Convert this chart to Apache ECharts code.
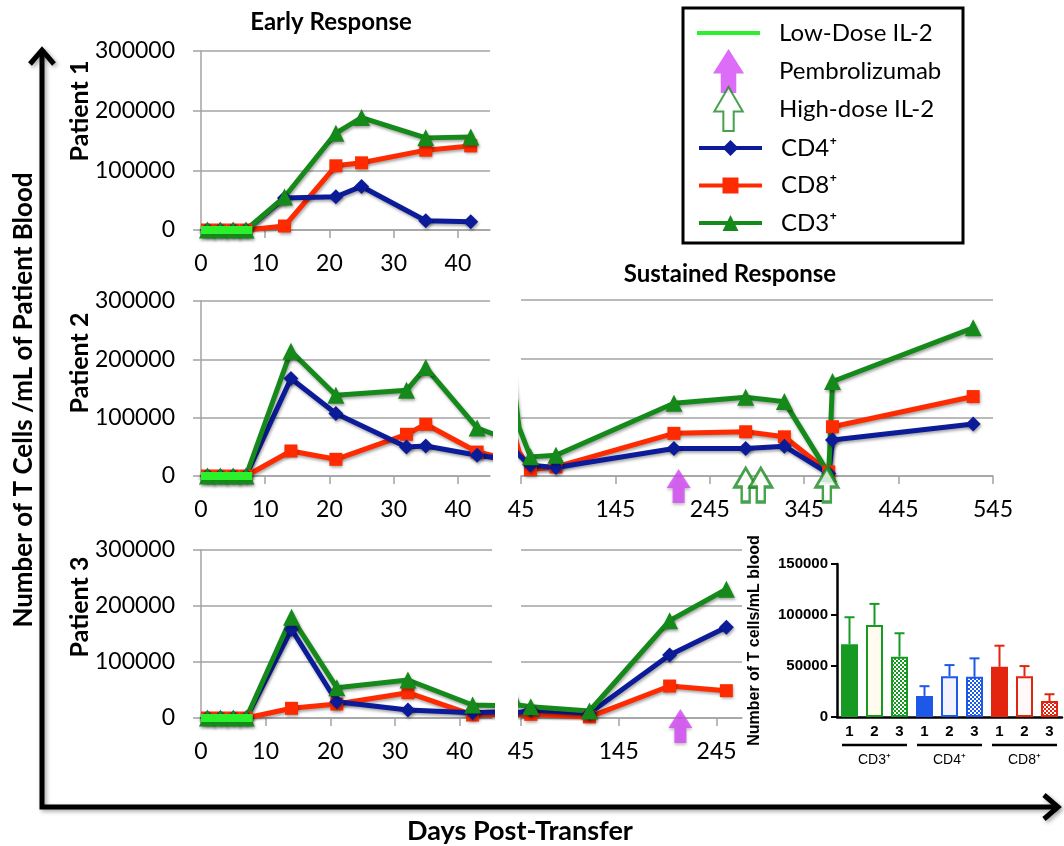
<!DOCTYPE html>
<html lang="en">
<head>
<meta charset="UTF-8">
<script src="https://cdn.jsdelivr.net/npm/echarts@6/dist/echarts.min.js"></script>
<title>T cells post-transfer</title>
<style>html,body{margin:0;padding:0;background:#fff;}</style>
</head>
<body>
<div id="main" style="width:1064px;height:846px;"></div>
<script type="text/javascript">
// days post-transfer; early and sustained panels share one array, the axes clip it
var p1Days = [1, 3, 5, 7, 13, 21, 25, 35, 42];
var p1CD4 = [0, 0, 0, 0, 53500, 55700, 73000, 15600, 13900];
var p1CD8 = [0, 0, 0, 0, 6700, 107600, 112600, 133800, 141000];
var p1CD3 = [0, 0, 0, 0, 55300, 162300, 188500, 154400, 156000];

var p2Days = [1, 3, 5, 7, 14, 21, 32, 35, 43, 55, 82, 207, 283, 324, 371, 375, 524];
var p2CD4 = [0, 0, 0, 0, 167000, 107000, 49700, 51400, 35500, 18300, 14400, 47000, 47000, 50900, 4100, 61200, 88600];
var p2CD8 = [0, 0, 0, 0, 42900, 28600, 71500, 88600, 41100, 11000, 15400, 72700, 75400, 66800, 6900, 84000, 135400];
var p2CD3 = [0, 0, 0, 0, 214000, 138300, 146900, 185800, 82300, 32600, 35500, 124100, 134400, 126800, 4000, 161100, 252600];

var p3Days = [1, 3, 5, 7, 14, 21, 32, 42, 55, 115, 197, 255];
var p3CD4 = [0, 0, 0, 0, 158400, 29100, 14300, 9500, 14300, 8300, 112500, 162000];
var p3CD8 = [0, 0, 0, 0, 17300, 25000, 45200, 5400, 6600, 2000, 57100, 48800];
var p3CD3 = [0, 0, 0, 0, 179800, 54100, 67900, 23200, 20200, 12500, 173800, 229900];

// treatments
var lowDoseDays = [0, 8];
var p2PembroDays = [212];
var p2HighDoseDays = [283, 299, 369];
var p3PembroDays = [208];

// tick labels
var earlyTicks = [0, 10, 20, 30, 40];
var p2LateTicks = [45, 145, 245, 345, 445, 545];
var p3LateTicks = [45, 145, 245];

// inset bar chart
var barGroups = ['CD3', 'CD4', 'CD8'];
var barSlots = ['1', '2', '3'];
var barMean = [71300, 90300, 59100, 20700, 40000, 39400, 49200, 40000, 15700];
var barErrTop = [97800, 110900, 82100, 30200, 50900, 57500, 69900, 49900, 22300];

var FONT = 'Lato';
var GRAY = '#a3a3a3';
var cCD4 = '#0c1b98', cCD8 = '#ff2b00', cCD3 = '#16891b', cLow = '#2cf02c';
var cPembro = '#d448f7', cHigh = '#1a8a1f';
var barColors = ['#169a22', '#1d58e8', '#e3240f'];
var barLight = ['#fffcef', '#f3f3ff', '#fff9f9'];

var myChart = echarts.init(document.getElementById('main'));

var shadow = {shadowColor: 'rgba(0,0,0,0.35)', shadowBlur: 3, shadowOffsetX: 1, shadowOffsetY: 2};

function pairs(days, vals) {
    return days.map(function (d, i) { return [d, vals[i]]; });
}

function plain(v) { return String(v); } // no thousands separator

function cellLine(name, g, days, vals, color, symbol, size) {
    return {
        name: name, type: 'line', xAxisIndex: g, yAxisIndex: g,
        data: pairs(days, vals), symbol: symbol, symbolSize: size,
        lineStyle: Object.assign({width: 5, color: color}, shadow),
        itemStyle: Object.assign({color: color}, shadow),
        clip: true
    };
}

function checker(c) {
    var cv = document.createElement('canvas');
    cv.width = 4; cv.height = 4;
    var ctx = cv.getContext('2d');
    ctx.fillStyle = '#ffffff'; ctx.fillRect(0, 0, 4, 4);
    ctx.fillStyle = c; ctx.fillRect(0, 0, 2, 2); ctx.fillRect(2, 2, 2, 2);
    return cv;
}

var pembroPath = 'path://M12,0 L24,19 L18,19 L18,34 L6,34 L6,19 L0,19 Z';
var highPath = 'path://M11,0 L22,19 L15,19 L15,34 L7,34 L7,19 L0,19 Z';

function arrows(name, g, days, path, style, size, dy) {
    return {
        name: name, type: 'scatter', xAxisIndex: g, yAxisIndex: g,
        data: days.map(function (d) { return [d, 0]; }),
        symbol: path, symbolSize: size, symbolOffset: [0, dy],
        itemStyle: style, clip: false, z: 5
    };
}

// axes
var grids = [
    {left: 201, top: 51, width: 289, height: 179},
    {left: 201, top: 301, width: 289, height: 175},
    {left: 521, top: 300, width: 472, height: 176},
    {left: 201, top: 550, width: 291, height: 168},
    {left: 521, top: 550, width: 221, height: 168},
    {left: 837, top: 564, width: 225, height: 153}
];

function dayAxis(g, min, max, ticks) {
    return {
        type: 'value', gridIndex: g, min: min, max: max,
        axisLine: {show: true, lineStyle: {color: GRAY, width: 1.5}},
        axisTick: {show: true, length: 8, customValues: ticks, lineStyle: {color: GRAY, width: 1.5}},
        axisLabel: {customValues: ticks, fontFamily: FONT, fontSize: 23, color: '#000', margin: 22},
        splitLine: {show: false}
    };
}

function countAxis(g, labelled) {
    return {
        type: 'value', gridIndex: g, min: 0, max: 300000, interval: 100000,
        axisLine: {show: labelled, lineStyle: {color: GRAY, width: 1.5}},
        axisTick: {show: labelled, length: 8, lineStyle: {color: GRAY, width: 1.5}},
        axisLabel: {show: labelled, formatter: plain, fontFamily: FONT, fontSize: 23, color: '#000', margin: 26},
        splitLine: {show: true, lineStyle: {color: GRAY, width: 1.5}}
    };
}

var barCats = [];
barGroups.forEach(function (g) { barSlots.forEach(function (s) { barCats.push(g + '-' + s); }); });

var xAxes = [
    dayAxis(0, 0, 45, earlyTicks),
    dayAxis(1, 0, 45, earlyTicks),
    dayAxis(2, 45, 545, p2LateTicks),
    dayAxis(3, 0, 45, earlyTicks),
    dayAxis(4, 45, 271, p3LateTicks),
    {
        type: 'category', gridIndex: 5, data: barCats,
        axisLine: {lineStyle: {color: '#000', width: 2.5}},
        axisTick: {show: false},
        axisLabel: {
            interval: 0, margin: 7, color: '#000', fontFamily: 'Liberation Sans', fontWeight: 'bold', fontSize: 15,
            formatter: function (v) { return v.split('-')[1]; }
        }
    }
];
var yAxes = [
    countAxis(0, true), countAxis(1, true), countAxis(2, false), countAxis(3, true), countAxis(4, false),
    {
        type: 'value', gridIndex: 5, min: 0, max: 150000, interval: 50000,
        name: 'Number of T cells/mL blood', nameLocation: 'middle', nameRotate: 90, nameGap: 74,
        nameTextStyle: {fontFamily: 'Liberation Sans', fontWeight: 'bold', fontSize: 16, color: '#000'},
        axisLine: {show: true, lineStyle: {color: '#000', width: 2.5}},
        axisTick: {show: true, length: 6, lineStyle: {color: '#000', width: 2}},
        axisLabel: {formatter: plain, fontFamily: 'Liberation Sans', fontWeight: 'bold', fontSize: 15, color: '#000', margin: 9},
        splitLine: {show: false}
    }
];

// line series for each panel
var series = [];
var panels = [
    [0, p1Days, p1CD4, p1CD8, p1CD3],
    [1, p2Days, p2CD4, p2CD8, p2CD3],
    [2, p2Days, p2CD4, p2CD8, p2CD3],
    [3, p3Days, p3CD4, p3CD8, p3CD3],
    [4, p3Days, p3CD4, p3CD8, p3CD3]
];
panels.forEach(function (p) {
    series.push(cellLine('CD8⁺', p[0], p[1], p[3], cCD8, 'rect', 13));
    series.push(cellLine('CD4⁺', p[0], p[1], p[2], cCD4, 'diamond', 15));
    series.push(cellLine('CD3⁺', p[0], p[1], p[4], cCD3, 'triangle', 17));
});
[0, 1, 3].forEach(function (g) {
    series.push({
        name: 'Low-Dose IL-2', type: 'line', xAxisIndex: g, yAxisIndex: g,
        data: lowDoseDays.map(function (d) { return [d, 0]; }),
        symbol: 'none', z: 4,
        lineStyle: {width: 8, color: cLow, shadowColor: 'rgba(0,0,0,0.5)', shadowBlur: 4, shadowOffsetY: 3},
        itemStyle: {color: cLow}
    });
});
var pembroStyle = {color: cPembro, shadowColor: 'rgba(0,0,0,0.3)', shadowBlur: 3, shadowOffsetY: 2};
var highStyle = {color: '#ffffff', borderColor: cHigh, borderWidth: 3};
series.push(arrows('Pembrolizumab', 2, p2PembroDays, pembroPath, pembroStyle, [24, 34], 10));
series.push(arrows('Pembrolizumab', 4, p3PembroDays, pembroPath, pembroStyle, [24, 34], 8));
series.push(arrows('High-dose IL-2', 2, p2HighDoseDays, highPath, highStyle, [22, 34], 9));

// inset bars
series.push({
    name: 'mean', type: 'bar', xAxisIndex: 5, yAxisIndex: 5, barWidth: 17,
    data: barMean.map(function (v, i) {
        var g = Math.floor(i / 3), s = i % 3, c = barColors[g];
        var fill = s === 0 ? c : (s === 1 ? barLight[g] : {image: checker(c), repeat: 'repeat'});
        return {value: v, itemStyle: {color: fill, borderColor: c, borderWidth: 2}};
    })
});
series.push({
    name: 'sem', type: 'custom', xAxisIndex: 5, yAxisIndex: 5,
    encode: {x: 0, y: [1, 2]},
    data: barMean.map(function (m, i) { return [i, m, barErrTop[i]]; }),
    renderItem: function (params, api) {
        var lo = api.coord([api.value(0), api.value(1)]);
        var hi = api.coord([api.value(0), api.value(2)]);
        var c = barColors[Math.floor(params.dataIndex / 3)];
        return {type: 'group', children: [
            {type: 'line', shape: {x1: lo[0], y1: lo[1], x2: hi[0], y2: hi[1]}, style: {stroke: c, lineWidth: 2}},
            {type: 'line', shape: {x1: hi[0] - 5, y1: hi[1], x2: hi[0] + 5, y2: hi[1]}, style: {stroke: c, lineWidth: 2}}
        ]};
    }
});
series.push({
    name: 'groups', type: 'custom', xAxisIndex: 5, yAxisIndex: 5,
    encode: {x: 0, y: 1},
    data: barGroups.map(function (g, i) { return [i * 3, 0]; }),
    renderItem: function (params, api) {
        var first = api.coord([api.value(0), 0]);
        var last = api.coord([api.value(0) + 2, 0]);
        var half = api.size([1, 0])[0] * 0.3;
        var y = first[1] + 28;
        return {type: 'group', children: [
            {type: 'line', shape: {x1: first[0] - half, y1: y, x2: last[0] + half, y2: y}, style: {stroke: '#000', lineWidth: 2.5}},
            {type: 'text', x: (first[0] + last[0]) / 2, y: y + 15, style: {
                text: barGroups[params.dataIndex] + '⁺', fill: '#000',
                font: '14px "Liberation Sans Narrow", "Liberation Sans", sans-serif',
                align: 'center', verticalAlign: 'middle', textAlign: 'center', textVerticalAlign: 'middle'
            }}
        ]};
    }
});

var legendText = {fontFamily: FONT, fontSize: 24, color: '#000', lineHeight: 28, padding: [0, 0, 0, 14]};

function label(txt, x, y, size, rot) {
    return {
        type: 'text', x: x, y: y, rotation: rot || 0,
        style: {
            text: txt, fill: '#000', font: 'bold ' + size + 'px ' + FONT,
            align: 'center', verticalAlign: 'middle', textAlign: 'center', textVerticalAlign: 'middle'
        }
    };
}

var arrowStyle = {stroke: '#000', lineWidth: 5, fill: null, shadowColor: 'rgba(0,0,0,0.35)', shadowBlur: 4, shadowOffsetX: 2, shadowOffsetY: 2};

var option = {
    animation: false,
    backgroundColor: '#fff',
    grid: grids,
    xAxis: xAxes,
    yAxis: yAxes,
    legend: [
        {data: ['Low-Dose IL-2'], orient: 'vertical', left: 697, top: 19, padding: 0,
            icon: 'rect', itemWidth: 63, itemHeight: 4, textStyle: legendText, selectedMode: false},
        {data: ['Pembrolizumab', 'High-dose IL-2'], orient: 'vertical', left: 713, top: 49, padding: 0,
            itemWidth: 63, itemHeight: 44, itemGap: -7, symbolKeepAspect: true, textStyle: legendText, selectedMode: false},
        {data: ['CD4⁺', 'CD8⁺', 'CD3⁺'], orient: 'vertical', left: 697, top: 134, padding: 0,
            itemWidth: 63, itemHeight: 20, itemGap: 9.5, lineStyle: {width: 4}, textStyle: legendText, selectedMode: false}
    ],
    graphic: [
        {type: 'rect', shape: {x: 683, y: 8, width: 280, height: 235}, style: {stroke: '#000', lineWidth: 3, fill: null}},
        {type: 'polyline', shape: {points: [[42, 52], [42, 807], [1056, 807]]}, style: arrowStyle},
        {type: 'polyline', shape: {points: [[30, 64], [42, 50], [54, 64]]}, style: arrowStyle},
        {type: 'polyline', shape: {points: [[1044, 795], [1058, 807], [1044, 819]]}, style: arrowStyle},
        label('Number of T Cells /mL of Patient Blood', 24, 400, 26, Math.PI / 2),
        label('Days Post-Transfer', 520, 831, 27),
        label('Early Response', 331, 22, 24),
        label('Sustained Response', 730, 274, 24),
        label('Patient 1', 80, 111, 25, Math.PI / 2),
        label('Patient 2', 80, 363, 25, Math.PI / 2),
        label('Patient 3', 80, 607, 25, Math.PI / 2)
    ],
    series: series
};

myChart.setOption(option);
</script>
</body>
</html>
